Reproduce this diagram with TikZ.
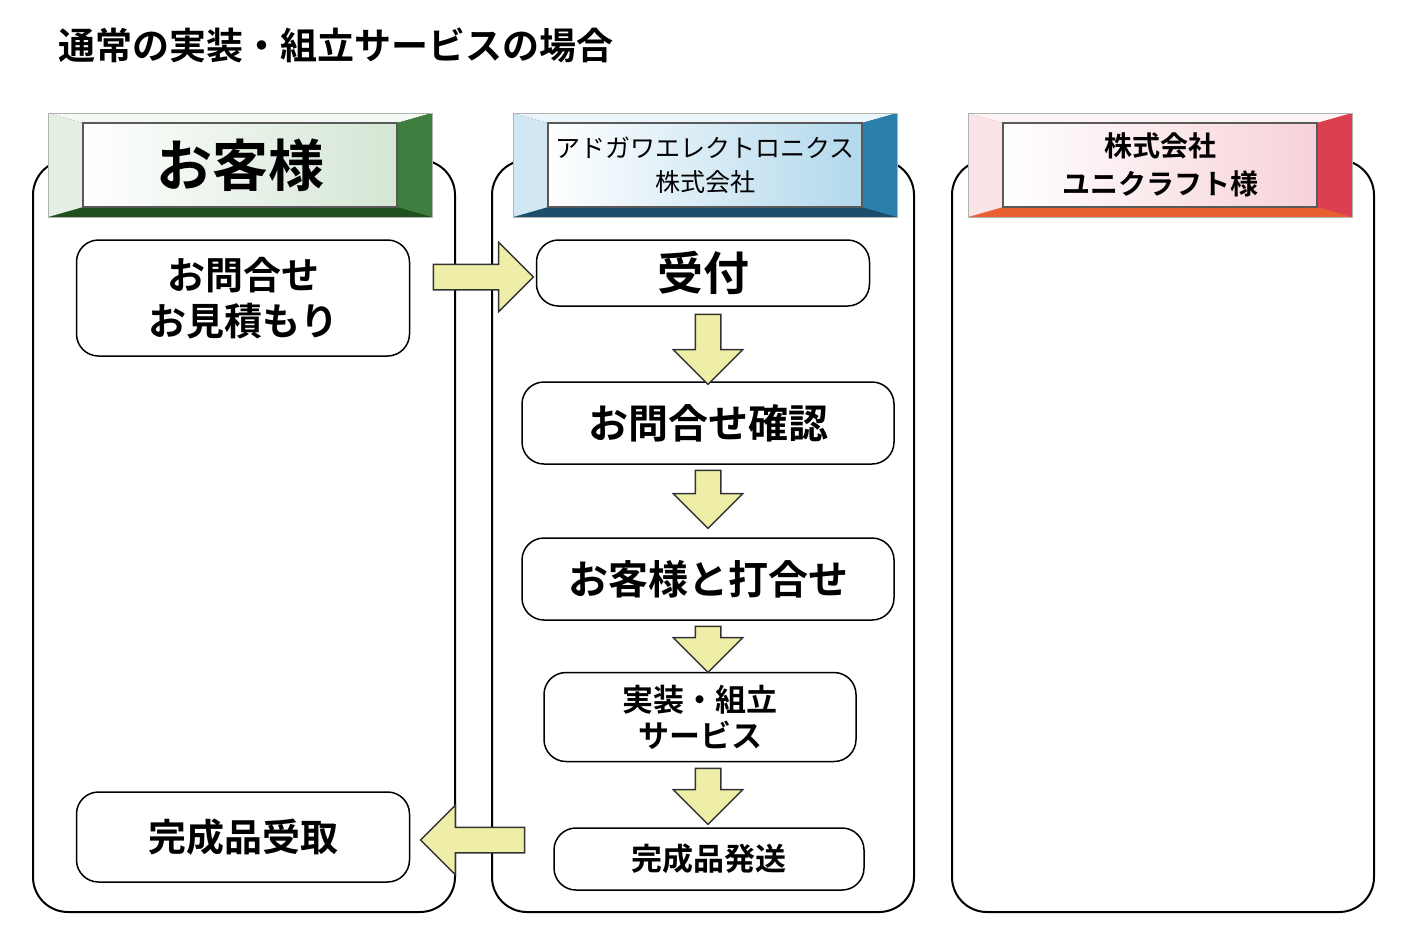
\documentclass[tikz,border=0pt]{standalone}
\usepackage{fontspec}
\setmainfont{Noto Sans CJK JP}[BoldFont={* Bold}]
\usetikzlibrary{shapes.arrows, calc, positioning}

\definecolor{arrowfill}{HTML}{EEEEA8}
\definecolor{gLight}{HTML}{D4E6D4}\definecolor{gMid}{HTML}{3E7E3E}\definecolor{gDark}{HTML}{1F4F1F}
\definecolor{bLight}{HTML}{B2D8EC}\definecolor{bMid}{HTML}{2A80AA}\definecolor{bDark}{HTML}{1C4E6C}
\definecolor{rLight}{HTML}{F6D2D8}\definecolor{rMid}{HTML}{DC4050}\definecolor{rDark}{HTML}{E86030}

% bevelled header: name, center x, center y, light, mid, dark
\newcommand{\bevelhead}[6]{%
  \begin{scope}[shift={(#2,#3)}]
    \fill[#6] (-192,-52) rectangle (192,52);
    \fill[#4!25] (-192,-52) -- (192,-52) -- (157,-42) -- (-157,-42) -- cycle;
    \fill[#4!60] (-192,-52) -- (-157,-42) -- (-157,42) -- (-192,52) -- cycle;
    \fill[#5] (192,-52) -- (157,-42) -- (157,42) -- (192,52) -- cycle;
    \shade[left color=white, right color=#4] (-157,-42) rectangle (157,42);
    \draw[gray!70!black, line width=1.2pt] (-157,-42) rectangle (157,42);
    \draw[gray!60, line width=1pt] (-192,-52) rectangle (192,52);
    \node[minimum width=314, minimum height=84] (#1) at (0,0) {};
  \end{scope}}

\begin{document}
\begin{tikzpicture}[x=1pt, y=-1pt,
    lane/.style={draw, line width=2pt, rounded corners=35pt, minimum width=422pt, minimum height=752pt},
    stepbox/.style={draw, line width=1.5pt, rounded corners=22pt, align=center, font=\bfseries\fontsize{40}{48}\selectfont},
    fat/.style={single arrow, draw=black!80, line width=1.5pt, fill=arrowfill,
      single arrow head extend=22pt, minimum height=#1, inner sep=0pt}
  ]
  \useasboundingbox (0,0) rectangle (1404,943);

  % title
  \node[anchor=west, font=\bfseries\fontsize{37}{40}\selectfont] (title) at (55,45) {通常の実装・組立サービスの場合};

  % lanes
  \node[lane] (cust) at (244,536) {};
  \node[lane] (adg) at (703,536) {};
  \node[lane] (uni) at (1163,536) {};

  % headers
  \bevelhead{hcust}{240}{165}{gLight}{gMid}{gDark}
  \bevelhead{hadg}{705}{165}{bLight}{bMid}{bDark}
  \bevelhead{huni}{1160}{165}{rLight}{rMid}{rDark}
  \node[font=\bfseries\fontsize{56}{60}\selectfont] at (hcust) {お客様};
  \node[align=center, font=\fontsize{25}{34}\selectfont] at (hadg) {アドガワエレクトロニクス\\株式会社};
  \node[align=center, font=\bfseries\fontsize{28}{38}\selectfont] at (huni) {株式会社\\ユニクラフト様};

  % customer side
  \node[stepbox, minimum width=333pt, minimum height=116pt, font=\bfseries\fontsize{38}{46}\selectfont] (ask) at (243,298) {お問合せ\\お見積もり};
  \node[stepbox, minimum width=333pt, minimum height=90pt, font=\bfseries\fontsize{38}{44}\selectfont] (recv) at (243,837) {完成品受取};

  % ADGW side
  \node[stepbox, minimum width=333pt, minimum height=66pt, font=\bfseries\fontsize{46}{50}\selectfont] (accept) at (703,273) {受付};
  \node[stepbox, minimum width=372pt, minimum height=82pt] (check) at (708,423) {お問合せ確認};
  \node[stepbox, minimum width=372pt, minimum height=82pt] (meet) at (708,579) {お客様と打合せ};
  \node[stepbox, minimum width=312pt, minimum height=89pt, font=\bfseries\fontsize{31}{36}\selectfont] (build) at (700,717) {実装・組立\\サービス};
  \node[stepbox, minimum width=310pt, minimum height=62pt, font=\bfseries\fontsize{31}{36}\selectfont] (ship) at (709,859) {完成品発送};

  % flow arrows
  \node[fat=100pt] (a1) at (477,277) {\rule{0pt}{24pt}};
  \node[fat=70pt, rotate=-90] (a2) at (708,343) {\rule{0pt}{24pt}};
  \node[fat=58pt, rotate=-90] (a3) at (708,493) {\rule{0pt}{24pt}};
  \node[fat=46pt, rotate=-90] (a4) at (708,643) {\rule{0pt}{24pt}};
  \node[fat=56pt, rotate=-90] (a5) at (708,790) {\rule{0pt}{24pt}};
  \node[fat=104pt, rotate=180] (a6) at (479,840) {\rule{0pt}{24pt}};
\end{tikzpicture}
\end{document}
